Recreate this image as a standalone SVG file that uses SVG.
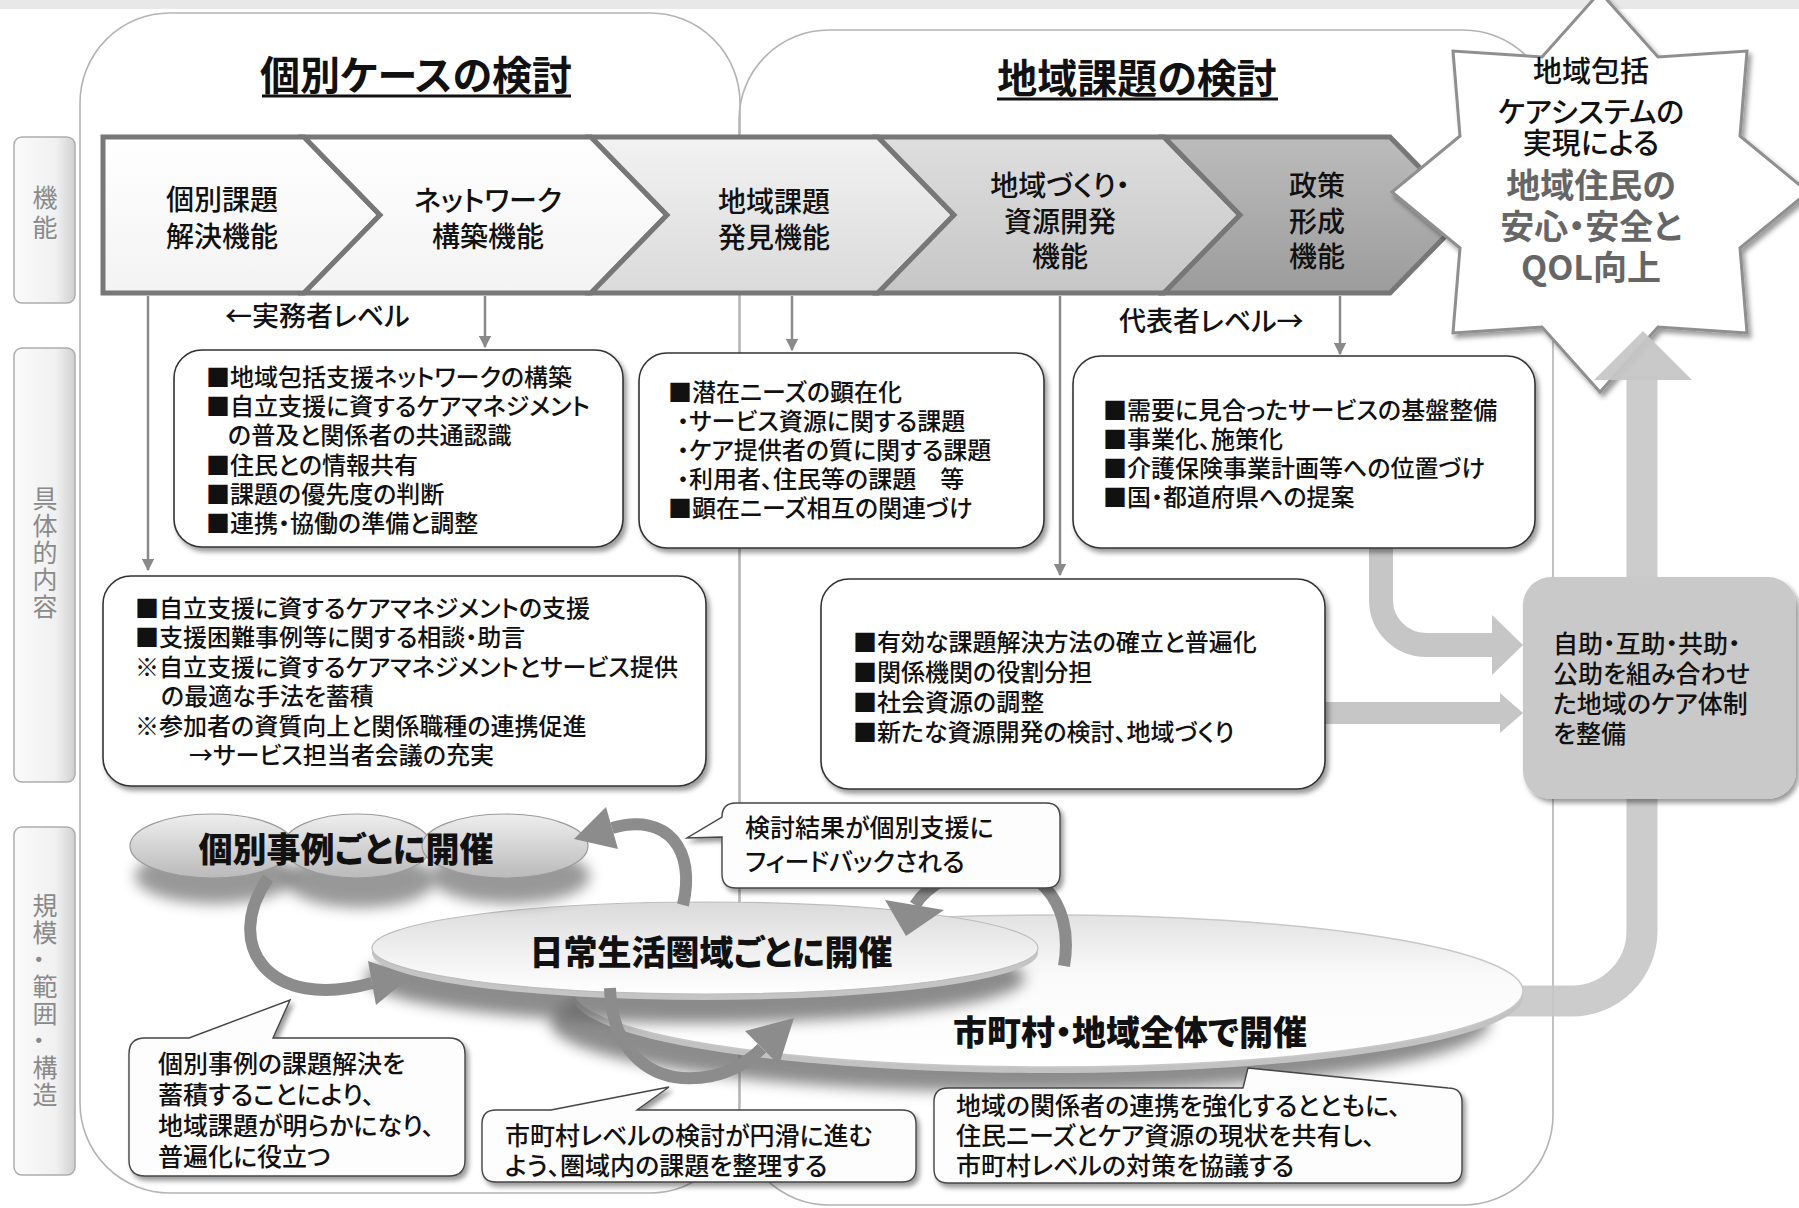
<svg xmlns="http://www.w3.org/2000/svg" width="1799" height="1208" viewBox="0 0 1799 1208">
<defs>
<style>
text{font-family:"Noto Sans CJK JP","Noto Sans",sans-serif;font-feature-settings:"palt";fill:#111;font-weight:500;}
.bx{font-size:24px;}
.co{font-size:25px;}
.cv{font-size:28px;text-anchor:middle;}
.lbl{font-size:25px;fill:#8a8a8a;writing-mode:vertical-rl;font-weight:400;}
.ttl{font-size:40px;font-weight:700;text-anchor:middle;}
.ell{font-size:34px;font-weight:900;text-anchor:middle;}
.st{font-size:29px;text-anchor:middle;}
.stb{font-size:34px;font-weight:700;text-anchor:middle;fill:#666;}
.panel{fill:none;stroke:#b4b4b4;stroke-width:1.6;}
.card{fill:#fff;stroke:#333;stroke-width:1.6;}
.conn{stroke:#8a8a8a;stroke-width:2.5;fill:none;}
.arc{stroke:#8c8c8c;stroke-width:12;fill:none;}
.arch{fill:#8c8c8c;}
.big{stroke:#c6c6c6;fill:none;}
.bigh{fill:#c6c6c6;}
.call{fill:#fdfdfd;stroke:#444;stroke-width:1.4;}
.chev{stroke:#777;stroke-width:5;stroke-linejoin:miter;}
.lab{fill:url(#glab);stroke:#adadad;stroke-width:1.5;}
</style>
<filter id="sh" x="-10%" y="-10%" width="130%" height="130%"><feDropShadow dx="3" dy="4" stdDeviation="2.5" flood-color="#000" flood-opacity="0.4"/></filter>
<filter id="blur" x="-20%" y="-60%" width="140%" height="220%"><feGaussianBlur stdDeviation="7"/></filter>
<marker id="ah" viewBox="0 0 10 10" refX="9" refY="5" markerWidth="5" markerHeight="5" orient="auto"><path d="M0,0 L10,5 L0,10 z" fill="#8a8a8a"/></marker>
<linearGradient id="glab" x1="0" y1="0" x2="1" y2="0"><stop offset="0" stop-color="#fbfbfb"/><stop offset="0.7" stop-color="#f0f0f0"/><stop offset="1" stop-color="#cfcfcf"/></linearGradient>
<linearGradient id="gc1" x1="0" y1="0" x2="0" y2="1"><stop offset="0" stop-color="#ffffff"/><stop offset="1" stop-color="#f3f3f3"/></linearGradient>
<linearGradient id="gc3" x1="0" y1="0" x2="0" y2="1"><stop offset="0" stop-color="#f2f2f2"/><stop offset="1" stop-color="#dadada"/></linearGradient>
<linearGradient id="gc4" x1="0" y1="0" x2="0" y2="1"><stop offset="0" stop-color="#dedede"/><stop offset="1" stop-color="#c6c6c6"/></linearGradient>
<linearGradient id="gc5" x1="0" y1="0" x2="0" y2="1"><stop offset="0" stop-color="#bcbcbc"/><stop offset="1" stop-color="#9c9c9c"/></linearGradient>
<linearGradient id="gsm" x1="0" y1="0" x2="0" y2="1"><stop offset="0" stop-color="#eeeeee"/><stop offset="1" stop-color="#bababa"/></linearGradient>
<linearGradient id="gmid" x1="0" y1="0" x2="0" y2="1"><stop offset="0" stop-color="#dadada"/><stop offset="0.6" stop-color="#f2f2f2"/><stop offset="1" stop-color="#ffffff"/></linearGradient>
<linearGradient id="gbig" x1="0" y1="0" x2="0" y2="1"><stop offset="0" stop-color="#e2e2e2"/><stop offset="0.4" stop-color="#fafafa"/><stop offset="1" stop-color="#ffffff"/></linearGradient>
</defs>

<rect x="0" y="0" width="1799" height="1208" fill="#ffffff"/>
<rect x="0" y="0" width="1799" height="9" fill="#e8e8e8"/>

<g id="panels">
<rect class="panel" x="80" y="13" width="660" height="1180" rx="90"/>
<rect class="panel" x="739" y="30" width="814" height="1175" rx="90"/>
</g>

<g id="row-labels">
<rect class="lab" x="14" y="137" width="61" height="166" rx="8"/>
<text class="lbl" x="45" y="185" letter-spacing="5">機能</text>
<rect class="lab" x="14" y="348" width="61" height="434" rx="8"/>
<text class="lbl" x="45" y="486" letter-spacing="2">具体的内容</text>
<rect class="lab" x="14" y="827" width="61" height="348" rx="8"/>
<text class="lbl" x="45" y="893" letter-spacing="2">規模・範囲・構造</text>
</g>

<g id="titles">
<text class="ttl" x="416" y="90">個別ケースの検討</text>
<line x1="262" y1="96" x2="571" y2="96" stroke="#111" stroke-width="3"/>
<text class="ttl" x="1137" y="93">地域課題の検討</text>
<line x1="997" y1="99" x2="1278" y2="99" stroke="#111" stroke-width="3"/>
</g>

<g id="thick-arrows">
<path class="big" d="M1495,1001 H1572 A70,70 0 0 0 1642,931 V376" stroke-width="31" opacity="0.9"/>
<path class="big" d="M1381,548 V600 A45,45 0 0 0 1426,645 H1494" stroke-width="24"/>
<polygon class="bigh" points="1492,615 1523,645 1492,675"/>
<path class="big" d="M1325,713 H1502" stroke-width="22"/>
<polygon class="bigh" points="1500,693 1523,713 1500,733"/>
</g>

<g id="chevrons">
<g id="chev1"><polygon class="chev" fill="url(#gc1)" points="103,137 304,137 380,215 304,293 103,293"/>
<text class="cv" x="222"><tspan x="222" y="210">個別課題</tspan><tspan x="222" y="247">解決機能</tspan></text></g>
<g id="chev2"><polygon class="chev" fill="url(#gc1)" points="304,137 591,137 667,215 591,293 304,293 380,215"/>
<text class="cv"><tspan x="488" y="211">ネットワーク</tspan><tspan x="488" y="247">構築機能</tspan></text></g>
<g id="chev3"><polygon class="chev" fill="url(#gc3)" points="591,137 878,137 954,215 878,293 591,293 667,215"/>
<text class="cv"><tspan x="774" y="212">地域課題</tspan><tspan x="774" y="248">発見機能</tspan></text></g>
<g id="chev4"><polygon class="chev" fill="url(#gc4)" points="878,137 1164,137 1240,215 1164,293 878,293 954,215"/>
<text class="cv"><tspan x="1060" y="196">地域づくり・</tspan><tspan x="1060" y="232">資源開発</tspan><tspan x="1060" y="267">機能</tspan></text></g>
<g id="chev5"><polygon class="chev" fill="url(#gc5)" points="1164,137 1390,137 1466,215 1390,293 1164,293 1240,215"/>
<text class="cv"><tspan x="1317" y="196">政策</tspan><tspan x="1317" y="232">形成</tspan><tspan x="1317" y="267">機能</tspan></text></g>
</g>

<g id="star">
<polygon filter="url(#sh)" fill="#ffffff" stroke="#8f8f8f" stroke-width="3" points="1600,-8 1658,57 1747,51 1740,136 1808,192 1740,248 1747,333 1658,327 1600,392 1542,327 1453,333 1460,248 1392,192 1460,136 1453,51 1542,57"/>
<text class="st"><tspan x="1591" y="82">地域包括</tspan><tspan x="1591" y="123">ケアシステムの</tspan><tspan x="1591" y="154">実現による</tspan></text>
<text class="stb"><tspan x="1591" y="198">地域住民の</tspan><tspan x="1591" y="239">安心・安全と</tspan><tspan x="1591" y="280">QOL向上</tspan></text>
</g>
<polygon class="bigh" points="1594,380 1643,331 1692,380" opacity="0.95"/>

<g id="level-labels">
<text x="225" y="326" font-size="27">←実務者レベル</text>
<text x="1119" y="331" font-size="27">代表者レベル→</text>
</g>

<g id="connectors">
<line class="conn" x1="148" y1="296" x2="148" y2="570" marker-end="url(#ah)"/>
<line class="conn" x1="485" y1="296" x2="485" y2="347" marker-end="url(#ah)"/>
<line class="conn" x1="792" y1="296" x2="792" y2="350" marker-end="url(#ah)"/>
<line class="conn" x1="1060" y1="296" x2="1060" y2="575" marker-end="url(#ah)"/>
<line class="conn" x1="1340" y1="296" x2="1340" y2="354" marker-end="url(#ah)"/>
</g>

<g id="boxA">
<rect class="card" filter="url(#sh)" x="174" y="350" width="449" height="197" rx="28"/>
<text class="bx"><tspan x="206" y="386">■地域包括支援ネットワークの構築</tspan><tspan x="206" y="415">■自立支援に資するケアマネジメント</tspan><tspan x="228" y="444">の普及と関係者の共通認識</tspan><tspan x="206" y="474">■住民との情報共有</tspan><tspan x="206" y="503">■課題の優先度の判断</tspan><tspan x="206" y="532">■連携・協働の準備と調整</tspan></text>
</g>
<g id="boxB">
<rect class="card" filter="url(#sh)" x="639" y="353" width="405" height="195" rx="28"/>
<text class="bx"><tspan x="668" y="401">■潜在ニーズの顕在化</tspan><tspan x="677" y="430">・サービス資源に関する課題</tspan><tspan x="677" y="459">・ケア提供者の質に関する課題</tspan><tspan x="677" y="488">・利用者、住民等の課題　等</tspan><tspan x="668" y="517">■顕在ニーズ相互の関連づけ</tspan></text>
</g>
<g id="boxC">
<rect class="card" filter="url(#sh)" x="1073" y="356" width="462" height="192" rx="28"/>
<text class="bx"><tspan x="1103" y="419">■需要に見合ったサービスの基盤整備</tspan><tspan x="1103" y="448">■事業化、施策化</tspan><tspan x="1103" y="477">■介護保険事業計画等への位置づけ</tspan><tspan x="1103" y="506">■国・都道府県への提案</tspan></text>
</g>
<g id="boxD">
<rect class="card" filter="url(#sh)" x="103" y="576" width="603" height="210" rx="28"/>
<text class="bx"><tspan x="135" y="617">■自立支援に資するケアマネジメントの支援</tspan><tspan x="135" y="646">■支援困難事例等に関する相談・助言</tspan><tspan x="135" y="676">※自立支援に資するケアマネジメントとサービス提供</tspan><tspan x="161" y="705">の最適な手法を蓄積</tspan><tspan x="135" y="735">※参加者の資質向上と関係職種の連携促進</tspan><tspan x="189" y="764">→サービス担当者会議の充実</tspan></text>
</g>
<g id="boxE">
<rect class="card" filter="url(#sh)" x="821" y="579" width="504" height="210" rx="28"/>
<text class="bx"><tspan x="853" y="651">■有効な課題解決方法の確立と普遍化</tspan><tspan x="853" y="681">■関係機関の役割分担</tspan><tspan x="853" y="711">■社会資源の調整</tspan><tspan x="853" y="741">■新たな資源開発の検討、地域づくり</tspan></text>
</g>
<g id="boxF">
<rect filter="url(#sh)" fill="#c9c9c9" x="1523" y="577" width="273" height="222" rx="28"/>
<text class="co"><tspan x="1553" y="653">自助・互助・共助・</tspan><tspan x="1553" y="683">公助を組み合わせ</tspan><tspan x="1553" y="713">た地域のケア体制</tspan><tspan x="1553" y="743">を整備</tspan></text>
</g>

<g id="disc-city">
<ellipse cx="1020" cy="1022" rx="470" ry="70" fill="#666" opacity="0.75" filter="url(#blur)"/>
<ellipse cx="1048" cy="997" rx="475" ry="76" fill="#c2c2c2"/>
<ellipse cx="1048" cy="991" rx="475" ry="76" fill="url(#gbig)" stroke="#c8c8c8" stroke-width="1.5"/>
<text class="ell" x="1130" y="1045">市町村・地域全体で開催</text>
</g>
<g id="disc-area">
<ellipse cx="695" cy="978" rx="330" ry="45" fill="#666" opacity="0.75" filter="url(#blur)"/>
<ellipse cx="705" cy="953" rx="333" ry="47" fill="#c4c4c4"/>
<ellipse cx="705" cy="948" rx="333" ry="46" fill="url(#gmid)" stroke="#bdbdbd" stroke-width="1.2"/>
<text class="ell" x="711" y="965">日常生活圏域ごとに開催</text>
</g>
<g id="disc-case">
<ellipse cx="215" cy="876" rx="80" ry="28" fill="#555" opacity="0.6" filter="url(#blur)"/>
<ellipse cx="360" cy="880" rx="75" ry="28" fill="#555" opacity="0.6" filter="url(#blur)"/>
<ellipse cx="510" cy="876" rx="80" ry="28" fill="#555" opacity="0.6" filter="url(#blur)"/>
<ellipse cx="357" cy="846" rx="74" ry="32" fill="url(#gsm)" stroke="#9a9a9a" stroke-width="1.2"/>
<ellipse cx="212" cy="846" rx="82" ry="32" fill="url(#gsm)" stroke="#9a9a9a" stroke-width="1.2"/>
<ellipse cx="505" cy="846" rx="83" ry="32" fill="url(#gsm)" stroke="#9a9a9a" stroke-width="1.2"/>
<text class="ell" x="346" y="862">個別事例ごとに開催</text>
</g>

<g id="cycle-arrows">
<path class="arc" d="M268,878 C222,945 268,1012 372,983"/>
<polygon class="arch" points="368,961 411,976 376,1005"/>
<path class="arc" d="M683,905 C696,850 668,812 612,828"/>
<polygon class="arch" points="606,807 574,839 618,849"/>
<path class="arc" d="M1064,966 C1076,898 1030,860 985,866 C955,870 928,885 915,905"/>
<polygon class="arch" points="885,900 944,910 906,936"/>
<path class="arc" d="M610,988 C612,1050 650,1088 712,1076 C735,1071 750,1060 762,1048"/>
<polygon class="arch" points="745,1031 794,1018 779,1065"/>
</g>

<g id="callout1">
<path class="call" filter="url(#sh)" d="M736,803 H1046 Q1060,803 1060,817 V874 Q1060,888 1046,888 H736 Q722,888 722,874 V837 L687,838 L722,817 Q722,803 736,803 Z"/>
<text class="co"><tspan x="745" y="837">検討結果が個別支援に</tspan><tspan x="745" y="871">フィードバックされる</tspan></text>
</g>
<g id="callout2">
<path class="call" filter="url(#sh)" d="M145,1038 H189 L290,1000 L273,1038 H449 Q465,1038 465,1054 V1160 Q465,1176 449,1176 H145 Q129,1176 129,1160 V1054 Q129,1038 145,1038 Z"/>
<text class="co"><tspan x="158" y="1073">個別事例の課題解決を</tspan><tspan x="158" y="1104">蓄積することにより、</tspan><tspan x="158" y="1135">地域課題が明らかになり、</tspan><tspan x="158" y="1166">普遍化に役立つ</tspan></text>
</g>
<g id="callout3">
<path class="call" filter="url(#sh)" d="M496,1110 H551 L669,1087 L637,1110 H902 Q916,1110 916,1124 V1168 Q916,1182 902,1182 H496 Q482,1182 482,1168 V1124 Q482,1110 496,1110 Z"/>
<text class="co"><tspan x="505" y="1145">市町村レベルの検討が円滑に進む</tspan><tspan x="505" y="1175">よう、圏域内の課題を整理する</tspan></text>
</g>
<g id="callout4">
<path class="call" filter="url(#sh)" d="M948,1088 H1243 L1248,1068 L1448,1088 Q1462,1088 1462,1102 V1169 Q1462,1183 1448,1183 H948 Q934,1183 934,1169 V1102 Q934,1088 948,1088 Z"/>
<text class="co"><tspan x="956" y="1115">地域の関係者の連携を強化するとともに、</tspan><tspan x="956" y="1145">住民ニーズとケア資源の現状を共有し、</tspan><tspan x="956" y="1175">市町村レベルの対策を協議する</tspan></text>
</g>
</svg>
